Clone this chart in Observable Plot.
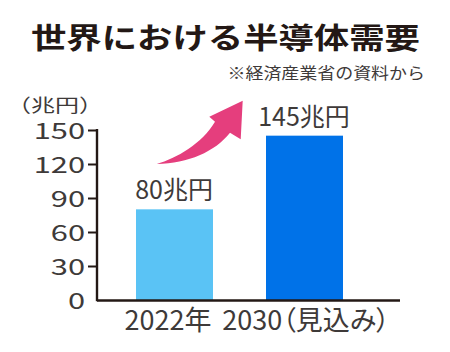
<!DOCTYPE html>
<html><head><meta charset="utf-8">
<script src="https://cdn.jsdelivr.net/npm/d3@7"></script>
<script src="https://cdn.jsdelivr.net/npm/@observablehq/plot@0.6"></script>
<style>
body{margin:0;background:#fff}
#wrap{position:relative;width:450px;height:352px;overflow:hidden}
#wrap svg{position:absolute;left:0;top:0}
</style></head><body><div id="wrap"></div>
<script>
// ---- data ----
const title = "世界における半導体需要";
const source = "※経済産業省の資料から";
const unit = "（兆円）";
const years = ["2022年", "2030（見込み）"];
const demand = [80, 145];
const labelSuffix = "兆円";
const yTicks = [0, 30, 60, 90, 120, 150];
const barColors = ["#5ac3f5", "#0072e8"];

const ink = "#231815";
const textColor = "#3e3a39";
const arrowColor = "#e53e7d";
const font = "'Noto Sans CJK JP', 'Noto Sans', sans-serif";

const data = years.map((year, i) => ({year, value: demand[i]}));

const decor = (index, scales, values, dimensions) => {
  const {x, y} = scales;
  const {marginLeft} = dimensions;
  const g = d3.create("svg:g");
  g.append("path")
    .attr("d", `M${marginLeft},${y(150) - 1}V${y(0) + 1.2}`)
    .attr("fill", "none").attr("stroke", ink).attr("stroke-width", 2.4);
  const tx = x(years[0]) + 20.7, ty = y(120);
  g.append("path")
    .attr("transform", `translate(${tx},${ty})`)
    .attr("d", "M0,0 C20,-6 45,-20 58.3,-42.3 L52.6,-47.3 L86,-63.3 L84,-24.7 L73.3,-31.3 C58,-12 32,-1 0,0 Z")
    .attr("fill", arrowColor);
  return g.node();
};

const plot = Plot.plot({
  width: 450,
  height: 352,
  marginLeft: 97,
  marginRight: 50,
  marginTop: 130,
  marginBottom: 52,
  style: {fontFamily: font, fontFeatureSettings: '"palt"', color: textColor, background: "transparent", overflow: "visible"},
  x: {type: "band", domain: years, paddingInner: 0.4077, paddingOuter: 0.3692, align: 0.406, label: null},
  y: {domain: [0, 150], label: null},
  color: {domain: years, range: barColors},
  marks: [
    Plot.barY(data, {x: "year", y: "value", fill: "year"}),
    Plot.ruleY([0], {stroke: ink, strokeWidth: 2.4}),
    Plot.axisY(yTicks.filter(d => d > 0), {tickSize: 9, tickFormat: () => "", stroke: ink, strokeWidth: 2, label: null}),
    Plot.axisY(yTicks, {tickSize: 0, tickPadding: 12.5, fontSize: 22.5, fill: textColor, dy: 1.5, label: null}),
    Plot.axisX([years[0]], {tickSize: 0, tickPadding: 10.8, fontSize: 27, fill: textColor, dx: -7, label: null}),
    Plot.axisX([years[1]], {tickSize: 0, tickPadding: 10.8, fontSize: 27, fill: textColor, dx: 1, label: null}),
    Plot.text(data, {x: "year", y: "value", text: d => d.value + labelSuffix, dy: -18.5, dx: -1, fontSize: 25, fill: textColor}),
    decor
  ]
});

// widen the y tick labels horizontally, keeping their right edge in place
d3.select(plot).selectAll('g[aria-label="y-axis tick label"] text').each(function () {
  const t = this.getAttribute("transform") || "";
  this.setAttribute("transform", t + " scale(1.37,1)");
});

const wrap = document.getElementById("wrap");
wrap.appendChild(plot);

const over = d3.create("svg").attr("width", 450).attr("height", 352)
  .style("pointer-events", "none").style("font-family", font);
over.append("text").attr("transform", "translate(31,49.4) scale(1.22,1)")
  .attr("font-size", 29).attr("font-weight", "bold").attr("fill", ink).text(title);
over.append("text").attr("transform", "translate(425,79) scale(1.16,1)")
  .attr("text-anchor", "end").attr("font-size", 15.5).attr("fill", textColor).text(source);
over.append("text").attr("transform", "translate(7,111.5) scale(1.3,1)")
  .attr("font-size", 18.5).attr("fill", textColor).text(unit);
wrap.appendChild(over.node());
</script></body></html>
